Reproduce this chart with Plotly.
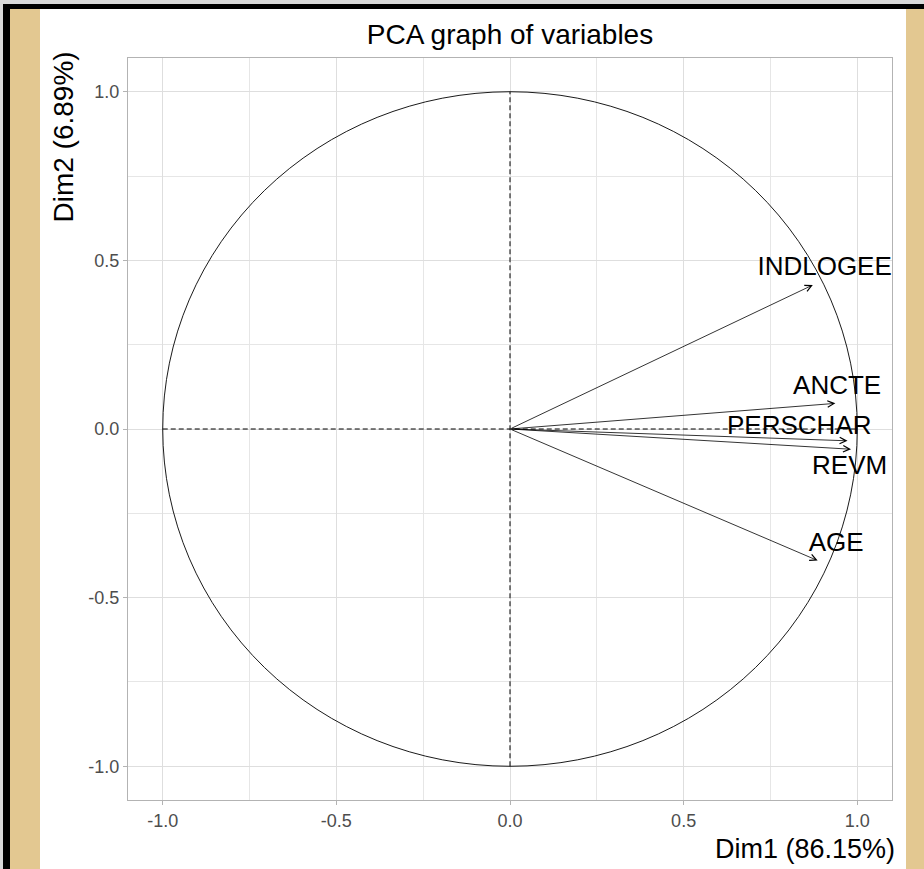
import plotly.graph_objects as go

# ---- data ----
variables = ["INDLOGEE", "ANCTE", "PERSCHAR", "REVM", "AGE"]
dim1 = [0.872, 0.937, 0.972, 0.982, 0.886]
dim2 = [0.427, 0.076, -0.035, -0.060, -0.390]
label_x = [0.906, 0.942, 0.833, 0.978, 0.939]
label_y = [0.476, 0.124, 0.004, -0.114, -0.341]
tick_vals = [-1.0, -0.5, 0.0, 0.5, 1.0]
tick_text = ["-1.0", "-0.5", "0.0", "0.5", "1.0"]
title_text = "PCA graph of variables"
xlab = "Dim1 (86.15%)"
ylab = "Dim2 (6.89%)"

W, H = 924, 869
L, R, T, B = 128, 892, 58, 800   # plot panel in pixels
FONT = "Liberation Sans, Arial, sans-serif"
TAN = "#E3C891"

def px_x(p):
    return (p - L) / (R - L)

def px_y(p):
    return (B - p) / (B - T)

fig = go.Figure()

shapes = []
# light outer edge, then white figure area over tan background
shapes.append(dict(type="rect", xref="paper", yref="paper", layer="below",
                   x0=px_x(-5), x1=px_x(W + 5), y0=px_y(4), y1=px_y(-5),
                   fillcolor="#D9D9D9", line=dict(width=0)))
shapes.append(dict(type="rect", xref="paper", yref="paper", layer="below",
                   x0=px_x(-5), x1=px_x(3), y0=px_y(H + 5), y1=px_y(-5),
                   fillcolor="#D9D9D9", line=dict(width=0)))
shapes.append(dict(type="rect", xref="paper", yref="paper", layer="below",
                   x0=px_x(40), x1=px_x(906), y0=px_y(H + 5), y1=px_y(9),
                   fillcolor="white", line=dict(width=0)))
# black outer border (top and left)
shapes.append(dict(type="rect", xref="paper", yref="paper", layer="below",
                   x0=px_x(3), x1=px_x(W + 5), y0=px_y(9), y1=px_y(4),
                   fillcolor="black", line=dict(width=0)))
shapes.append(dict(type="rect", xref="paper", yref="paper", layer="below",
                   x0=px_x(3), x1=px_x(10), y0=px_y(H + 5), y1=px_y(4),
                   fillcolor="black", line=dict(width=0)))
# unit circle & dashed axes
shapes.append(dict(type="circle", xref="x", yref="y", x0=-1, y0=-1, x1=1, y1=1,
                   line=dict(color="black", width=0.9)))
shapes.append(dict(type="line", xref="x", yref="y", x0=0, x1=0, y0=-1, y1=1,
                   line=dict(color="black", width=1, dash="5px,3px")))
shapes.append(dict(type="line", xref="x", yref="y", x0=-1, x1=1, y0=0, y1=0,
                   line=dict(color="black", width=1, dash="5px,3px")))

annotations = []
for v, a, b in zip(variables, dim1, dim2):
    annotations.append(dict(x=a, y=b, ax=0, ay=0, xref="x", yref="y",
                            axref="x", ayref="y", text="", showarrow=True,
                            arrowhead=5, arrowsize=1.6, arrowwidth=0.8,
                            arrowcolor="black", standoff=0, startstandoff=0))

annotations.append(dict(text=xlab, xref="paper", yref="paper", x=1, y=px_y(849),
                        xanchor="right", yanchor="middle", xshift=5, showarrow=False,
                        font=dict(family=FONT, size=27, color="black")))
annotations.append(dict(text=ylab, xref="paper", yref="paper", x=px_x(63), y=px_y(50),
                        xanchor="center", yanchor="top", textangle=-90, showarrow=False,
                        font=dict(family=FONT, size=28, color="black")))

fig.add_trace(go.Scatter(x=label_x, y=label_y, text=variables, mode="text",
                         textposition="middle center", cliponaxis=False,
                         textfont=dict(family=FONT, size=26, color="black"),
                         hoverinfo="skip", showlegend=False))

axis_common = dict(range=[-1.1, 1.1], tickvals=tick_vals, ticktext=tick_text,
                   showgrid=True, gridcolor="#DEDEDE", gridwidth=1,
                   zeroline=False, showline=True, linecolor="#B3B3B3", linewidth=1,
                   mirror=True, ticks="outside", ticklen=4, tickcolor="#B3B3B3",
                   tickfont=dict(family=FONT, size=18, color="#4D4D4D"),
                   minor=dict(dtick=0.25, tick0=0, showgrid=True,
                              gridcolor="#E6E6E6", gridwidth=0.6, ticks=""))

fig.update_layout(
    width=W, height=H, autosize=False,
    margin=dict(l=L, r=W - R, t=T, b=H - B, pad=0),
    paper_bgcolor=TAN, plot_bgcolor="white",
    title=dict(text=title_text, x=0.5, xref="paper", xanchor="center",
               y=1 - 34 / H, yref="container", yanchor="middle",
               font=dict(family=FONT, size=28, color="black")),
    xaxis=axis_common, yaxis=axis_common,
    shapes=shapes, annotations=annotations, showlegend=False,
)

fig.write_html("out.html", config={"displayModeBar": False},
               post_script="document.body.style.margin='0';document.body.style.overflow='hidden';")
